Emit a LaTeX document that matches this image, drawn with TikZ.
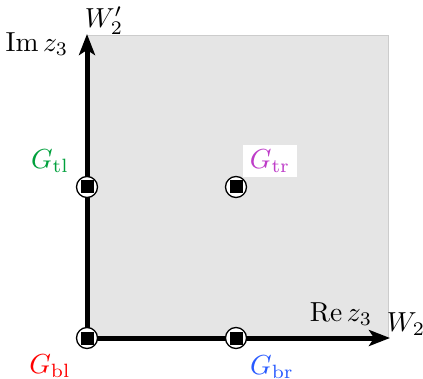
\documentclass[tikz,border=0pt]{standalone}
\usetikzlibrary{arrows.meta}
\newcommand{\mylbl}[1]{\scalebox{2.75}{#1}}
\begin{document}
\begin{tikzpicture}[x=1pt,y=-1pt,
  axis/.style={line width=5pt,-{Stealth[length=21pt,width=16pt,inset=5pt]}},
  lbl/.style={inner sep=1pt},
  pt/.style={circle,draw,fill=white,line width=1.3pt,minimum size=21pt,inner sep=0pt,
    path picture={\fill[black] ([xshift=-6.5pt,yshift=-6.5pt]path picture bounding box.center) rectangle ++(13pt,13pt);}}]
\definecolor{gtl}{RGB}{0,160,60}
\definecolor{gtr}{RGB}{190,60,200}
\definecolor{gbl}{RGB}{255,0,0}
\definecolor{gbr}{RGB}{40,90,255}
\useasboundingbox (0,0) rectangle (423,379);
\fill[black!10,draw=black!20,line width=1pt] (87,36) rectangle (388,338);
\coordinate (O) at (87,338);
\coordinate (T) at (87,34);
\coordinate (R) at (390,338);
\draw[axis] (O) -- (T);
\draw[axis] (O) -- (R);
\node[pt] (bl) at (87,338) {};
\node[pt] (tl) at (87,187) {};
\node[pt] (tr) at (236,187) {};
\node[pt] (br) at (236,338) {};
\node[lbl] (w2p) at (104,21) {\mylbl{$W_2'$}};
\node[lbl] (imz) at (37,44) {\mylbl{$\mathrm{Im}\,z_3$}};
\node[lbl] (rez) at (341,314) {\mylbl{$\mathrm{Re}\,z_3$}};
\node[lbl] (w2) at (406,324) {\mylbl{$W_2$}};
\node[lbl,text=gtl] (Gtl) at (50,161) {\mylbl{$G_{\mathrm{tl}}$}};
\node[lbl,text=gtr,fill=white,inner xsep=7pt,inner ysep=5pt] (Gtr) at (270,161) {\mylbl{$G_{\mathrm{tr}}$}};
\node[lbl,text=gbl] (Gbl) at (50,366) {\mylbl{$G_{\mathrm{bl}}$}};
\node[lbl,text=gbr] (Gbr) at (272,367) {\mylbl{$G_{\mathrm{br}}$}};
\end{tikzpicture}
\end{document}
